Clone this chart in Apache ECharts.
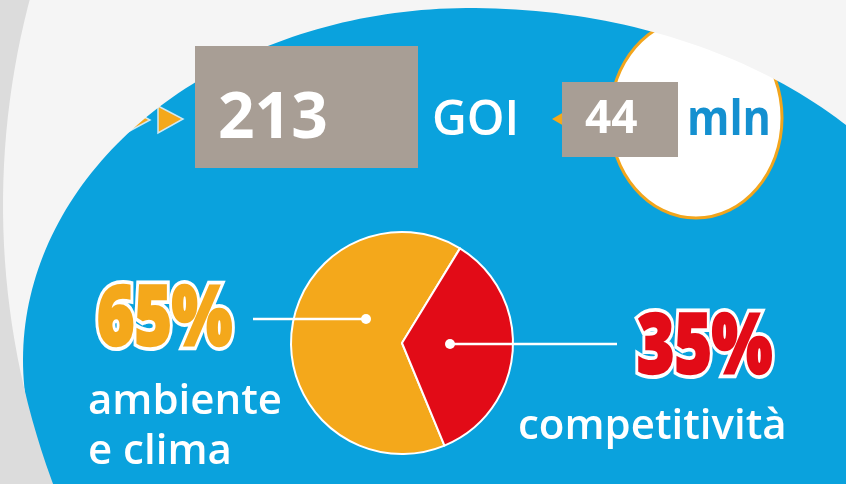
<!DOCTYPE html>
<html>
<head>
<meta charset="utf-8">
<script src="https://cdn.jsdelivr.net/npm/echarts@6/dist/echarts.min.js"></script>
<style>
  html, body { margin: 0; padding: 0; background: #f5f5f5; }
  #main { width: 846px; height: 484px; }
</style>
</head>
<body>
<div id="main"></div>
<script>
// data
var categories = ["ambiente\ne clima", "competitività"];
var shares = [65, 35];
var sliceColors = ["#f4a81b", "#e20b17"];
var projects = "213";
var projectsUnit = "GOI";
var funding = "44";
var fundingUnit = "mln";

var myChart = echarts.init(document.getElementById("main"));
var FONT = "'Open Sans', Lato, sans-serif";

// grey area outside the big blue shape (two half ellipses, wider on the right)
var outside = [];
for (var t = 0; t <= Math.PI + 0.45; t += 0.02) {
  var rx = Math.cos(t) > 0 ? 505 : 447;
  outside.push([470 + rx * Math.cos(t), 360 - 352 * Math.sin(t)]);
}
outside.push([-30, 520], [-30, -30], [1000, -30], [1000, 360]);

// darker band at the far left
var band = [];
for (var a = Math.PI - 0.45; a <= Math.PI + 0.36; a += 0.02) {
  band.push([806 + 803 * Math.cos(a), 205 + 803 * Math.sin(a)]);
}
band.push([-60, -80], [-60, 560]);

function txt(x, y, s, size, weight, color, extra) {
  var st = {
    text: s, fill: color, fontFamily: FONT, fontSize: size, fontWeight: weight,
    align: "left", textAlign: "left", verticalAlign: "middle", textVerticalAlign: "middle"
  };
  for (var k in extra || {}) st[k] = extra[k];
  return { type: "text", x: x, y: y, z: 20, silent: true, style: st };
}

// big percentage: white outline, then a thin same-colour stroke to make it heavier
function bigPct(x, y, i) {
  var s = shares[i] + "%";
  var outline = txt(x, y, s, 84, 800, sliceColors[i], { stroke: "#ffffff", lineWidth: 10, strokeFirst: true });
  var heavy = txt(x, y, s, 84, 800, sliceColors[i], { stroke: sliceColors[i], lineWidth: 2.5 });
  outline.scaleX = heavy.scaleX = 0.76;
  heavy.z = 21;
  return [outline, heavy];
}

var option = {
  backgroundColor: "#0aa2dd",
  animation: false,
  series: [
    {
      type: "pie",
      center: [402, 343],
      radius: 111,
      startAngle: -67.5,
      silent: true,
      label: { show: false },
      labelLine: { show: false },
      itemStyle: { borderColor: "#ffffff", borderWidth: 2 },
      data: categories.map(function (c, i) {
        return { name: c, value: shares[i], itemStyle: { color: sliceColors[i] } };
      })
    }
  ],
  graphic: [
    // white circle with orange rim behind "mln"
    { type: "ellipse", z: 1, silent: true, shape: { cx: 696, cy: 118, rx: 86, ry: 100 },
      style: { fill: "#ffffff", stroke: "#f2a51c", lineWidth: 3 } },
    // orange arrows
    { type: "polygon", z: 1, silent: true, shape: { points: [[126, 107], [150, 120], [126, 133]] },
      style: { fill: "#f4a81b", stroke: "#cfe9f5", lineWidth: 1.5 } },
    { type: "polygon", z: 1, silent: true, shape: { points: [[158, 106], [183, 119], [158, 133]] },
      style: { fill: "#f4a81b", stroke: "#cfe9f5", lineWidth: 1.5 } },
    { type: "polygon", z: 1, silent: true, shape: { points: [[552, 119], [564, 112], [564, 126]] },
      style: { fill: "#f4a81b" } },
    // backgrounds
    { type: "polygon", z: 3, silent: true, shape: { points: outside }, style: { fill: "#f5f5f5" } },
    { type: "polygon", z: 4, silent: true, shape: { points: band }, style: { fill: "#dcdcdc" } },
    // grey boxes
    { type: "rect", z: 5, silent: true, shape: { x: 195, y: 46, width: 223, height: 122 }, style: { fill: "#a89e95" } },
    { type: "rect", z: 5, silent: true, shape: { x: 562, y: 82, width: 116, height: 75 }, style: { fill: "#a89e95" } },
    // label lines with dots
    { type: "line", z: 10, silent: true, shape: { x1: 253, y1: 319, x2: 366, y2: 319 }, style: { stroke: "#ffffff", lineWidth: 2.5 } },
    { type: "circle", z: 10, silent: true, shape: { cx: 366, cy: 319, r: 5 }, style: { fill: "#ffffff" } },
    { type: "line", z: 10, silent: true, shape: { x1: 450, y1: 344, x2: 617, y2: 344 }, style: { stroke: "#ffffff", lineWidth: 2.5 } },
    { type: "circle", z: 10, silent: true, shape: { cx: 450, cy: 344, r: 5 }, style: { fill: "#ffffff" } },
    // top row texts
    txt(218, 120, projects, 64, 700, "#ffffff"),
    txt(432, 121, projectsUnit, 48, 600, "#ffffff"),
    txt(585, 120, funding, 46, 700, "#ffffff"),
    Object.assign(txt(687, 121, fundingUnit, 48, 700, "#1490d0"), { scaleX: 0.9 }),
    // category names
    txt(88, 402, categories[0].split("\n")[0], 42, 600, "#ffffff"),
    txt(88, 452, categories[0].split("\n")[1], 42, 600, "#ffffff"),
    txt(518, 427, categories[1], 42, 600, "#ffffff")
  ].concat(bigPct(97, 321, 0), bigPct(637, 349, 1))
};

myChart.setOption(option);
</script>
</body>
</html>
